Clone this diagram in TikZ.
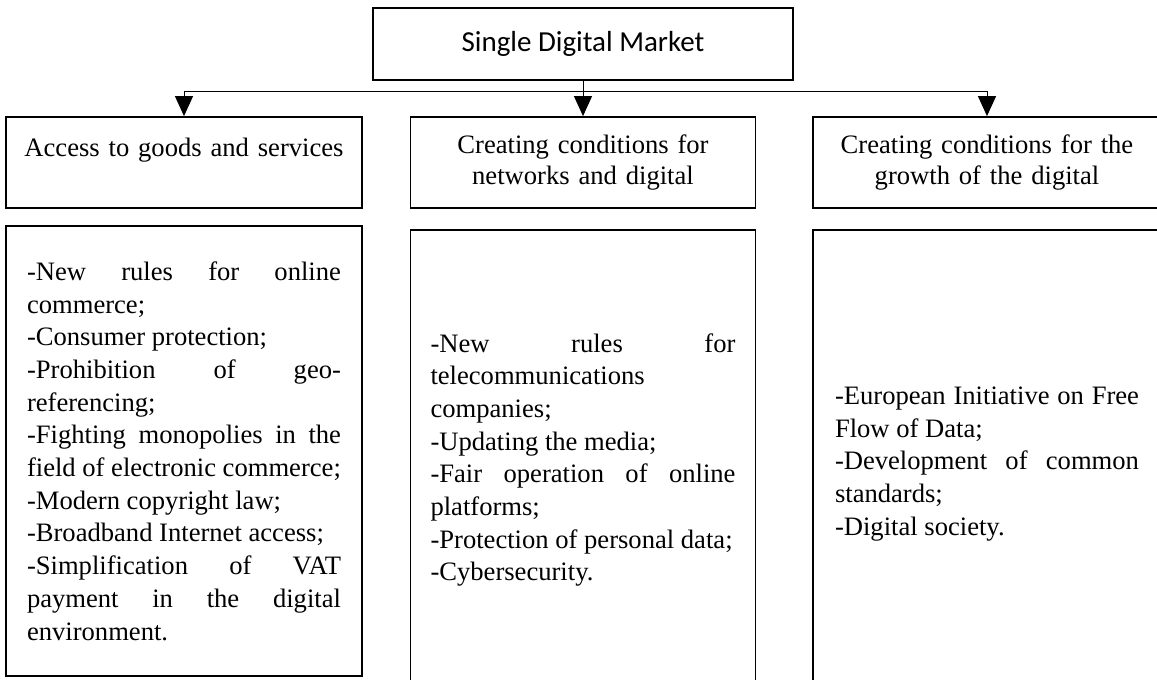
\documentclass[tikz,border=0pt]{standalone}
\usepackage{fontspec}
\setmainfont{Liberation Serif}
\newfontfamily\calibri{Carlito}
\usetikzlibrary{arrows.meta,calc}
\tikzset {>={Triangle[width=9pt,length=10pt]}}
\tikzset{
  box/.style={draw,line width=.9pt,rectangle,inner sep=0pt},
  head/.style={box,align=center,font=\fontsize{13.3}{15.5}\selectfont},
  body/.style={box,font=\fontsize{13.3}{16.35}\selectfont},
  link/.style={line width=.5pt}
}
\newcommand\bodyset{\rightskip=0pt\relax\spaceskip=0pt\relax\xspaceskip=0pt\relax
  \parfillskip=0pt plus 1fil\relax\tolerance=10000\relax\hyphenpenalty=10000\relax
  \exhyphenpenalty=10000\relax\hbadness=10000\relax}

\begin{document}
\begin{tikzpicture}[x=.5pt,y=-.5pt]
\useasboundingbox (0,0) rectangle (1157,680);
\clip (0,0) rectangle (1157,680);
\node[box,minimum width=210pt,minimum height=36pt,font=\calibri\fontsize{14.5}{17}\selectfont] (sdm) at (583,44) {Single Digital Market};
\node[head,minimum width=178pt,minimum height=45.5pt,text width=160pt] (acc) at (184,162.5) {Access to goods and services\\ \mbox{}};
\node[head,minimum width=172.5pt,minimum height=45.5pt,text width=160pt] (net) at (583,162.5) {Creating conditions for\\networks and digital};
\node[head,minimum width=174pt,minimum height=45.5pt,text width=160pt] (grw) at (987,162.5) {Creating conditions for the\\growth of the digital};
\node[body,minimum width=178pt,minimum height=225pt,text width=157pt] (accl) at (184,451) {\bodyset
-New rules for online\linebreak commerce;\par
-Consumer protection;\par
-Prohibition of geo-\linebreak referencing;\par
-Fighting monopolies in the\linebreak field of electronic commerce;\par
-Modern copyright law;\par
-Broadband Internet access;\par
-Simplification of VAT\linebreak payment in the digital\linebreak environment.\par};
\node[body,minimum width=172.5pt,minimum height=230pt,text width=152.5pt] (netl) at (583,460) {\bodyset
-New rules for\linebreak telecommunications\hfill\linebreak companies;\par
-Updating the media;\par
-Fair operation of online\linebreak platforms;\par
-Protection of personal data;\par
-Cybersecurity.\par};
\node[body,minimum width=174pt,minimum height=234pt,text width=152pt] (grwl) at (987,464) {\bodyset
-European Initiative on Free\linebreak Flow of Data;\par
-Development of common\linebreak standards;\par
-Digital society.\par};
\coordinate (bus) at ($(sdm.south)+(0,11)$);
\draw[link] (sdm.south) -- (bus);
\draw[link,->] (bus) -| (acc.north);
\draw[link,->] (bus) -- (net.north);
\draw[link,->] (bus) -| (grw.north);
\end{tikzpicture}
\end{document}
